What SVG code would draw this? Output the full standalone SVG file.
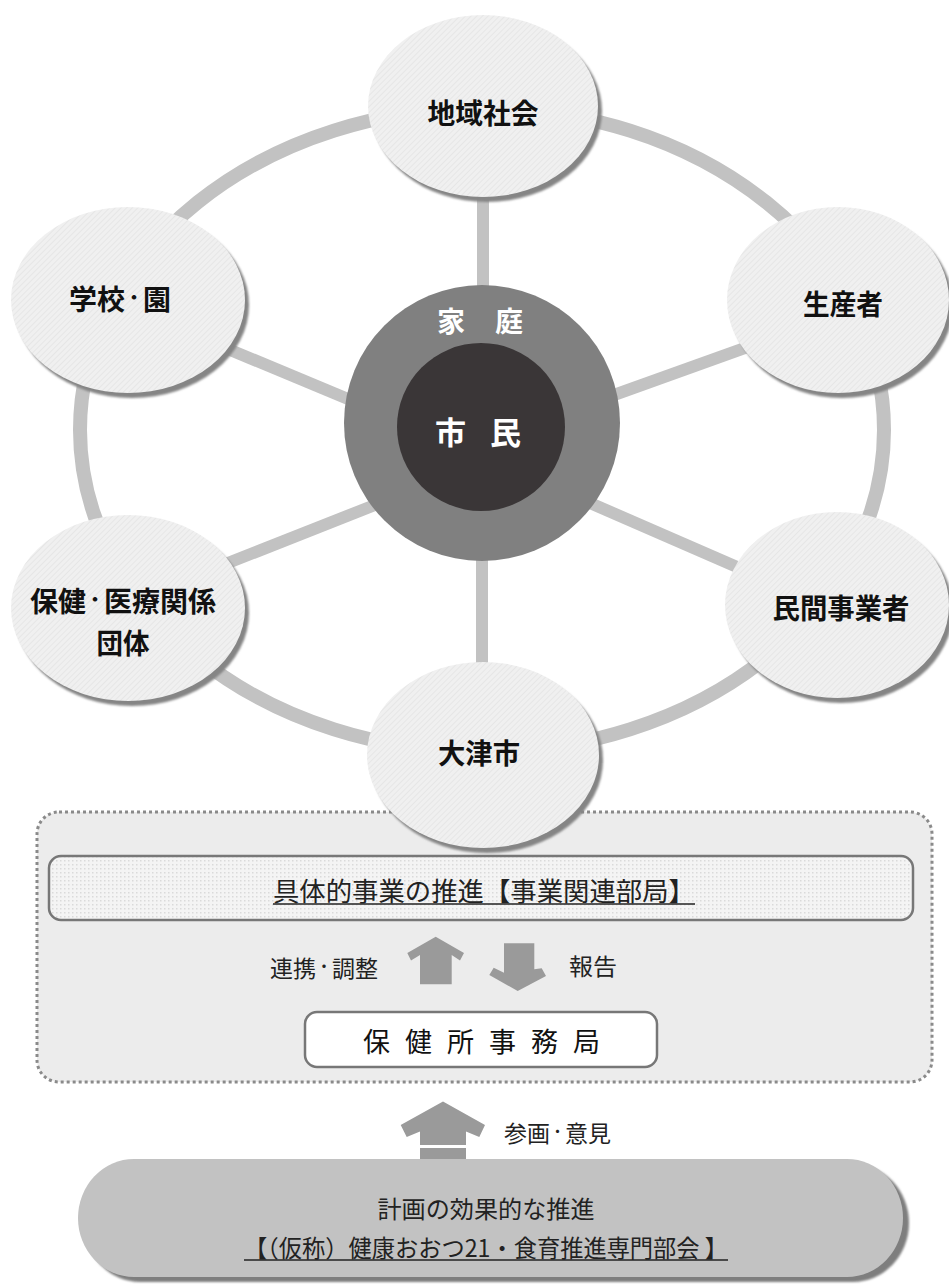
<svg xmlns="http://www.w3.org/2000/svg" width="949" height="1284" viewBox="0 0 949 1284">
<defs>
<style>
text{font-family:"Noto Sans CJK JP","Noto Sans CJK SC",sans-serif;}
.sat{fill:url(#hatch);}
.shadow{fill:#858585;filter:url(#blur);}
.lbl{font-size:28px;font-weight:700;fill:#111;text-anchor:middle;dominant-baseline:central;}
.spoke{stroke:#c2c2c2;stroke-width:12;fill:none;}
.ring{stroke:#c2c2c2;stroke-width:14;fill:none;}
.arrow{fill:#9a9a9a;}
.t{fill:#222;font-size:23px;dominant-baseline:central;}
.wt{fill:#fff;font-weight:700;text-anchor:middle;dominant-baseline:central;}
.ul{stroke:#222;stroke-width:1.5;}
</style>
<pattern id="hatch" width="4" height="4" patternUnits="userSpaceOnUse" patternTransform="rotate(45)">
<rect width="4" height="4" fill="#f0f0f0"/>
<line x1="0" y1="0" x2="0" y2="4" stroke="#e3e3e3" stroke-width="1.5"/>
</pattern>
<pattern id="dots" width="4" height="4" patternUnits="userSpaceOnUse">
<rect width="4" height="4" fill="#f4f4f4"/>
<rect width="1.5" height="1.5" fill="#dadada"/>
</pattern>
<filter id="blur" x="-10%" y="-10%" width="120%" height="120%"><feGaussianBlur stdDeviation="1.2"/></filter>
</defs>

<g id="lower-panel">
<rect x="37" y="812" width="895" height="270" rx="22" fill="#ececec" stroke="#8a8a8a" stroke-width="3" stroke-dasharray="3 3"/>
</g>

<g id="connectors">
<ellipse class="ring" cx="482" cy="430" rx="402" ry="322"/>
<line class="spoke" x1="483" y1="180" x2="483" y2="300"/>
<line class="spoke" x1="482" y1="550" x2="482" y2="680"/>
<line class="spoke" x1="180" y1="329" x2="360" y2="404"/>
<line class="spoke" x1="600" y1="400" x2="770" y2="339"/>
<line class="spoke" x1="200" y1="574" x2="380" y2="503"/>
<line class="spoke" x1="590" y1="503" x2="760" y2="577"/>
</g>

<g id="center">
<circle cx="482" cy="423" r="138" fill="#808080"/>
<circle cx="481" cy="427" r="84" fill="#3a3637"/>
<text class="wt" x="480" y="320" font-size="28" textLength="86" lengthAdjust="spacing">家 庭</text>
<text class="wt" x="478" y="430" font-size="31" textLength="86" lengthAdjust="spacing">市 民</text>
</g>

<g id="node-chiiki">
<ellipse class="shadow" cx="487" cy="111" rx="115" ry="91"/>
<ellipse class="sat" cx="483" cy="106" rx="115" ry="91"/>
<text class="lbl" x="483" y="112" textLength="111" lengthAdjust="spacingAndGlyphs">地域社会</text>
</g>
<g id="node-gakko">
<ellipse class="shadow" cx="132" cy="305" rx="117" ry="93"/>
<ellipse class="sat" cx="128" cy="300" rx="117" ry="93"/>
<text class="lbl" x="120" y="298">学校<tspan font-size="18" dy="-2">・</tspan><tspan dy="2">園</tspan></text>
</g>
<g id="node-seisan">
<ellipse class="shadow" cx="842" cy="305" rx="111" ry="93"/>
<ellipse class="sat" cx="838" cy="300" rx="111" ry="93"/>
<text class="lbl" x="843" y="303" textLength="80" lengthAdjust="spacingAndGlyphs">生産者</text>
</g>
<g id="node-hoken">
<ellipse class="shadow" cx="132" cy="613" rx="117" ry="93"/>
<ellipse class="sat" cx="128" cy="608" rx="117" ry="93"/>
<text class="lbl" x="123" y="600" font-size="27">保健<tspan font-size="18" dy="-2">・</tspan><tspan dy="2">医療関係</tspan></text>
<text class="lbl" x="123" y="642" textLength="53" lengthAdjust="spacingAndGlyphs">団体</text>
</g>
<g id="node-minkan">
<ellipse class="shadow" cx="841" cy="610" rx="112" ry="93"/>
<ellipse class="sat" cx="837" cy="605" rx="112" ry="93"/>
<text class="lbl" x="841" y="607" textLength="137" lengthAdjust="spacingAndGlyphs">民間事業者</text>
</g>
<g id="node-otsu">
<ellipse class="shadow" cx="487" cy="760" rx="116" ry="93"/>
<ellipse class="sat" cx="483" cy="755" rx="116" ry="93"/>
<text class="lbl" x="479" y="752" textLength="82" lengthAdjust="spacingAndGlyphs">大津市</text>
</g>

<g id="node-jigyo">
<rect x="49" y="856" width="864" height="64" rx="12" fill="url(#dots)" stroke="#777" stroke-width="2.5"/>
<text x="484" y="889" font-size="26" fill="#222" text-anchor="middle" dominant-baseline="central" textLength="422" lengthAdjust="spacingAndGlyphs">具体的事業の推進【事業関連部局】</text>
<line class="ul" x1="273" y1="904" x2="695" y2="904"/>
</g>

<g id="flow-arrows">
<polygon class="arrow" points="435.7,936.7 464,953 460,960.5 451.7,955 451.7,984.3 420,984.3 420,955 411,960.5 407.3,953"/>
<polygon class="arrow" points="504,943.3 534.3,943.3 534.3,969.3 541.7,968.3 546,976 517.7,991 489.3,975 493.7,967.7 504,972.7"/>
<text class="t" x="270" y="967">連携<tspan font-size="16" dy="-2">・</tspan><tspan dy="2">調整</tspan></text>
<text class="t" x="569" y="965" textLength="48" lengthAdjust="spacingAndGlyphs">報告</text>
</g>

<g id="node-jimukyoku">
<rect x="305" y="1012" width="352" height="55" rx="12" fill="#fff" stroke="#777" stroke-width="2.5"/>
<text x="481.5" y="1040" font-size="27" fill="#111" text-anchor="middle" dominant-baseline="central" textLength="237" lengthAdjust="spacing">保 健 所 事 務 局</text>
</g>

<g id="sankaku-arrow">
<polygon class="arrow" points="443,1101.5 485,1125 479.3,1137 466,1131.5 466,1145 420,1145 420,1131.5 406.7,1137 400.7,1125"/>
<rect class="arrow" x="420" y="1148" width="46" height="11"/>
<text class="t" x="504" y="1132" font-size="22">参画<tspan font-size="15" dy="-2">・</tspan><tspan dy="2">意見</tspan></text>
</g>

<g id="node-bukai">
<rect x="84" y="1164" width="825" height="118" rx="56" ry="60" fill="#7e7e7e" filter="url(#blur)"/>
<rect x="78" y="1159" width="825" height="118" rx="56" ry="60" fill="#c2c2c2"/>
<text x="486" y="1207" font-size="24" fill="#222" text-anchor="middle" dominant-baseline="central" textLength="217" lengthAdjust="spacingAndGlyphs">計画の効果的な推進</text>
<text x="486" y="1246" font-size="24" fill="#222" text-anchor="middle" dominant-baseline="central" textLength="484" lengthAdjust="spacingAndGlyphs">【（仮称）健康おおつ21・食育推進専門部会 】</text>
<line class="ul" x1="244" y1="1260" x2="728" y2="1260"/>
</g>
</svg>
